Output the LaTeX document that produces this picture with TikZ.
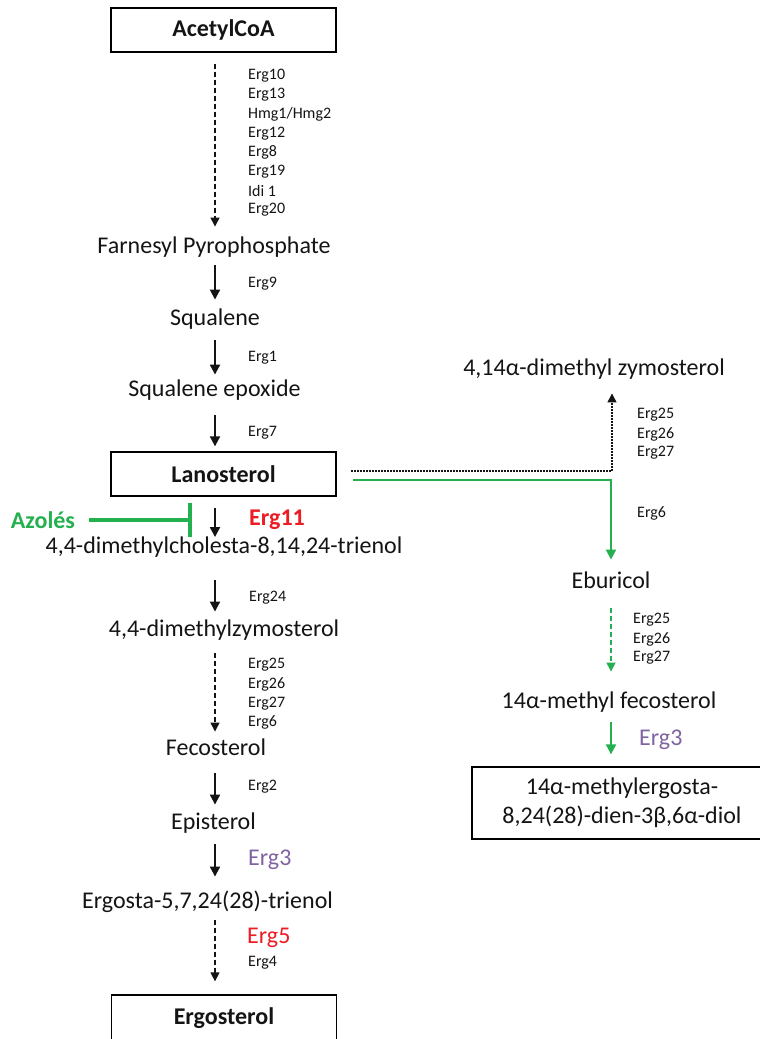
\documentclass[tikz,border=0pt]{standalone}
\usepackage{fontspec}
\setmainfont{Carlito}
\usetikzlibrary{arrows.meta}
\definecolor{azogreen}{RGB}{36,176,78}
\definecolor{ergred}{RGB}{236,28,36}
\definecolor{ergpurple}{RGB}{128,100,162}
\definecolor{ink}{RGB}{20,20,20}
\tikzset{%
  myedge/.style={-{Triangle[length=10pt,width=10pt]}, line width=2pt},
  mydash/.style={-{Triangle[length=9pt,width=9pt]}, line width=1.4pt, dash pattern=on 5pt off 3pt},
  mydot/.style={-{Triangle[length=9pt,width=9pt]}, line width=1.5pt, dash pattern=on 1.5pt off 1.5pt},
  mybox/.style={draw=black, line width=1.3pt, minimum width=225pt, minimum height=44pt, inner sep=0pt, font=\fontsize{24}{28}\selectfont\bfseries},
  mymet/.style={font=\fontsize{24}{29}\selectfont, text height=16.5pt, text depth=5pt, inner sep=0pt},
  myenz/.style={anchor=west, inner sep=0pt, font=\fontsize{16}{19}\selectfont},
  mybig/.style={anchor=west, inner sep=0pt, font=\fontsize{24}{28}\selectfont}
}

\begin{document}
\begin{tikzpicture}[x=1pt, y=-1pt, ink]
\useasboundingbox (0,0) rectangle (760,1039);

\node[mybox] (acoa) at (223.5,30) {AcetylCoA};
\node[mymet] (fpp) at (214,248) {Farnesyl Pyrophosphate};
\node[mymet] (sq) at (215,320) {Squalene};
\node[mymet] (sqe) at (214.5,391) {Squalene epoxide};
\node[mybox] (lan) at (223.5,474) {Lanosterol};
\node[mymet] (dmc) at (224,548) {4,4-dimethylcholesta-8,14,24-trienol};
\node[mymet] (dmz) at (224,631) {4,4-dimethylzymosterol};
\node[mymet] (fec) at (216,750) {Fecosterol};
\node[mymet] (epi) at (213.5,824) {Episterol};
\node[mymet] (egt) at (207.5,903) {Ergosta-5,7,24(28)-trienol};
\node[mybox, minimum height=47pt] (erg) at (224,1018.5) {Ergosterol};

\node[mymet] (dzy) at (594,370) {4,14α-dimethyl zymosterol};
\node[mymet] (ebu) at (611,583) {Eburicol};
\node[mymet] (mfe) at (609,703) {14α-methyl fecosterol};
\node[draw=black, line width=1.3pt, minimum width=300pt, minimum height=72pt, inner sep=0pt,
  align=center, font=\fontsize{24}{29}\selectfont] (mdi) at (622,803) {14α-methylergosta-\\8,24(28)-dien-3β,6α-diol};

% main column
\coordinate (ax) at (215,0);
\foreach \a/\b/\s/\e/\st in {acoa/fpp/11/10.5/mydash, fpp/sq/6.5/9.5/myedge, sq/sqe/9.5/5.5/myedge,
  sqe/lan/13.5/5/myedge, lan/dmc/11/0/myedge, dmc/dmz/21.5/8.5/myedge, dmz/fec/11.5/7.5/mydash,
  fec/epi/12.5/8.5/myedge, epi/egt/9.5/15.5/myedge, egt/erg/6.5/13/mydash}
  \draw[\st, shorten <=\s, shorten >=\e] (\a.south -| ax) -- (\b.north -| ax);

\foreach \t [count=\i from 0] in {Erg10,Erg13,{Hmg1/Hmg2},Erg12,Erg8,Erg19,Idi 1,Erg20}
  \node[myenz] (ea\i) at (248,{76+19.1*\i}) {\t};
\foreach \t [count=\i from 0] in {Erg25,Erg26,Erg27,Erg6}
  \node[myenz] (eb\i) at (248,{665+19.2*\i}) {\t};
\node[myenz] (e9) at (248,284) {Erg9};
\node[myenz] (e1) at (248,358) {Erg1};
\node[myenz] (e7) at (248,433) {Erg7};
\node[myenz] (e24) at (249,598) {Erg24};
\node[myenz] (e2) at (248,787) {Erg2};
\node[myenz] (e4) at (248,963) {Erg4};
\node[mybig, text=ergred, font=\fontsize{24}{28}\selectfont\bfseries] (e11) at (249,520) {Erg11};
\node[mybig, text=ergpurple] (e3) at (248,860) {Erg3};
\node[mybig, text=ergred] (e5) at (247,938) {Erg5};

% azoles
\node[font=\fontsize{24}{28}\selectfont\bfseries, text=azogreen, inner sep=0pt] (azo) at (43,520) {Azolés};
\coordinate (inh) at (192,520);
\draw[azogreen, line width=4pt, -{Bar[width=34pt,line width=4.5pt]}, shorten <=14] (azo.east) -- (inh);

% side branch
\draw[mydot] ([xshift=14.5,yshift=3]lan.east) -| ([xshift=18,yshift=-12.5]dzy.south);
\draw[myedge, azogreen] ([xshift=16.5,yshift=-6]lan.east) -| ([yshift=12.5]ebu.north);
\coordinate (bx) at (611,0);
\draw[mydash, azogreen, shorten <=14.5, shorten >=20.5] (ebu.south -| bx) -- (mfe.north -| bx);
\draw[myedge, azogreen, shorten <=8.5, shorten >=12] (mfe.south -| bx) -- (mdi.north -| bx);

\foreach \t [count=\i from 0] in {Erg25,Erg26,Erg27}
  \node[myenz] (ec\i) at (637,{415+19*\i}) {\t};
\node[myenz] (e6) at (637,513) {Erg6};
\foreach \t [count=\i from 0] in {Erg25,Erg26,Erg27}
  \node[myenz] (ed\i) at (633,{620+19*\i}) {\t};
\node[mybig, text=ergpurple] (e3b) at (639,740) {Erg3};

\end{tikzpicture}
\end{document}
